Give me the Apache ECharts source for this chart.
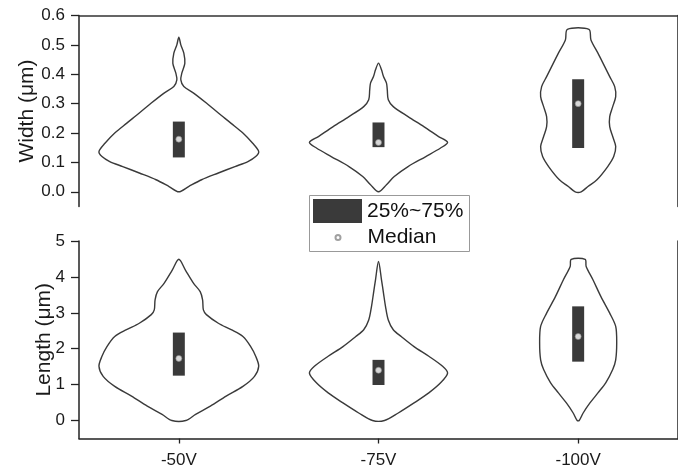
<!DOCTYPE html>
<html>
<head>
<meta charset="utf-8">
<script src="https://cdn.jsdelivr.net/npm/echarts@6/dist/echarts.min.js"></script>
<style>html,body{margin:0;padding:0;background:#fff;}#chart{width:678px;height:474px;}</style>
</head>
<body>
<div id="chart"></div>
<script>
const categories = ['-50V', '-75V', '-100V'];

const widthMajorTicks = [0, 0.1, 0.2, 0.3, 0.4, 0.5, 0.6];
const widthMinorTicks = [-0.05, 0.05, 0.15, 0.25, 0.35, 0.45, 0.55];
const lengthMajorTicks = [0, 1, 2, 3, 4, 5];
const lengthMinorTicks = [0.5, 1.5, 2.5, 3.5, 4.5];

// violin profiles: [value, half-width as fraction of category band]
const widthProfile50 = [[0,0],[0.018,0.049],[0.041,0.114],[0.064,0.198],[0.086,0.281],[0.103,0.346],[0.12,0.385],[0.137,0.400],[0.165,0.370],[0.2,0.321],[0.233,0.262],[0.268,0.198],[0.302,0.138],[0.336,0.074],[0.358,0.025],[0.381,0.010],[0.404,0.015],[0.437,0.030],[0.472,0.025],[0.5,0.010],[0.526,0]];
const widthProfile75 = [[0,0],[0.024,0.040],[0.052,0.079],[0.086,0.148],[0.12,0.237],[0.149,0.311],[0.168,0.346],[0.188,0.301],[0.222,0.227],[0.256,0.148],[0.29,0.074],[0.313,0.049],[0.347,0.044],[0.37,0.040],[0.392,0.025],[0.415,0.015],[0.438,0]];
const widthProfile100 = [[0,0.015],[0.018,0.049],[0.041,0.094],[0.086,0.148],[0.12,0.178],[0.154,0.188],[0.188,0.173],[0.222,0.158],[0.256,0.158],[0.29,0.173],[0.324,0.188],[0.358,0.183],[0.392,0.158],[0.426,0.133],[0.472,0.099],[0.517,0.064],[0.553,0.054]];

const lengthProfile50 = [[0,0.035],[0.17,0.084],[0.4,0.158],[0.68,0.237],[0.95,0.321],[1.23,0.379],[1.51,0.400],[1.79,0.385],[2.06,0.360],[2.34,0.321],[2.53,0.262],[2.71,0.198],[2.95,0.138],[3.08,0.123],[3.36,0.119],[3.59,0.107],[3.82,0.074],[4.19,0.033],[4.49,0]];
const lengthProfile75 = [[0,0.030],[0.21,0.099],[0.49,0.178],[0.77,0.252],[1.05,0.311],[1.32,0.346],[1.51,0.321],[1.79,0.252],[2.06,0.178],[2.34,0.114],[2.53,0.074],[2.8,0.049],[3.18,0.035],[3.55,0.025],[3.92,0.015],[4.43,0]];
const lengthProfile100 = [[0,0.005],[0.21,0.025],[0.49,0.059],[0.77,0.099],[1.05,0.138],[1.42,0.173],[1.69,0.188],[2.16,0.193],[2.62,0.188],[2.99,0.158],[3.45,0.114],[3.92,0.074],[4.29,0.040],[4.49,0.035]];

const widthQ1 = [0.117, 0.152, 0.149];
const widthQ3 = [0.239, 0.236, 0.383];
const widthMedian = [0.179, 0.168, 0.300];
const lengthQ1 = [1.25, 0.99, 1.64];
const lengthQ3 = [2.45, 1.69, 3.18];
const lengthMedian = [1.73, 1.40, 2.34];

const widthProfiles = [widthProfile50, widthProfile75, widthProfile100];
const lengthProfiles = [lengthProfile50, lengthProfile75, lengthProfile100];

const FONT = 'Liberation Sans, Arial, sans-serif';
const AX = '#222';

function violinRenderer(profiles) {
  return function (params, api) {
    const i = api.value(0);
    const prof = profiles[i];
    const cx = api.coord([i, 0])[0];
    const band = api.size([1, 0])[0];
    const pts = [];
    const push = (p) => {
      const last = pts[pts.length - 1];
      if (!last || Math.abs(last[0] - p[0]) > 0.01 || Math.abs(last[1] - p[1]) > 0.01) pts.push(p);
    };
    prof.forEach(p => push([cx + p[1] * band, api.coord([i, p[0]])[1]]));
    prof.slice().reverse().forEach(p => push([cx - p[1] * band, api.coord([i, p[0]])[1]]));
    if (pts.length > 1) {
      const a = pts[0], b = pts[pts.length - 1];
      if (Math.abs(a[0] - b[0]) < 0.01 && Math.abs(a[1] - b[1]) < 0.01) pts.pop();
    }
    return {
      type: 'polygon',
      shape: { points: pts, smooth: 0.3 },
      style: { fill: 'none', stroke: '#3a3a3a', lineWidth: 1.4 }
    };
  };
}

function boxRenderer(params, api) {
  const i = api.value(0);
  const lo = api.coord([i, api.value(1)]);
  const hi = api.coord([i, api.value(2)]);
  const band = api.size([1, 0])[0];
  const hw = 0.03 * band;
  return {
    type: 'rect',
    shape: { x: lo[0] - hw, y: hi[1], width: 2 * hw, height: lo[1] - hi[1] },
    style: { fill: '#3a3a3a' }
  };
}

function yAxisMajor(gridIndex, min, max, ticks, name, nameGap, digits) {
  return {
    type: 'value', gridIndex, min, max,
    name, nameLocation: 'middle', nameGap, nameMoveOverlap: false,
    nameTextStyle: { fontFamily: FONT, fontSize: 21, color: '#1a1a1a' },
    axisLine: { show: true, onZero: false, lineStyle: { color: AX, width: 1.5 } },
    axisTick: { show: true, length: 8, customValues: ticks, lineStyle: { color: AX, width: 1.3 } },
    axisLabel: { show: true, customValues: ticks, margin: 14, fontFamily: FONT, fontSize: 17, color: '#1a1a1a',
      formatter: v => Number(v).toFixed(digits) },
    splitLine: { show: false }
  };
}
function yAxisMinor(gridIndex, min, max, ticks) {
  return {
    type: 'value', gridIndex, min, max,
    axisLine: { show: true, onZero: false, lineStyle: { color: AX, width: 1.5 } },
    axisTick: { show: true, length: 4, customValues: ticks, lineStyle: { color: AX, width: 1.3 } },
    axisLabel: { show: false, customValues: ticks },
    splitLine: { show: false }
  };
}

const option = {
  backgroundColor: '#fff',
  animation: false,
  grid: [
    { left: 79, top: 15.5, width: 607.5, height: 191 },
    { left: 79, top: 241, width: 607.5, height: 197.5 }
  ],
  xAxis: [
    { type: 'category', gridIndex: 0, data: categories, position: 'top',
      axisLine: { show: true, onZero: false, lineStyle: { color: '#333', width: 1.5 } },
      axisTick: { show: false }, axisLabel: { show: false }, splitLine: { show: false } },
    { type: 'category', gridIndex: 1, data: categories, position: 'bottom',
      axisLine: { show: true, onZero: false, lineStyle: { color: AX, width: 1.5 } },
      axisTick: { show: true, alignWithLabel: true, length: 5, lineStyle: { color: AX, width: 1.3 } },
      axisLabel: { margin: 13, fontFamily: FONT, fontSize: 17, color: '#1a1a1a' },
      splitLine: { show: false } }
  ],
  yAxis: [
    yAxisMajor(0, -0.05, 0.6, widthMajorTicks, 'Width (μm)', 41, 1),
    yAxisMinor(0, -0.05, 0.6, widthMinorTicks),
    yAxisMajor(1, -0.5, 5, lengthMajorTicks, 'Length (μm)', 24, 0),
    yAxisMinor(1, -0.5, 5, lengthMinorTicks)
  ],
  legend: [
    { data: [{ name: '25%~75%', icon: 'rect' }], left: 313, top: 199, padding: 0,
      itemWidth: 49, itemHeight: 24, selectedMode: false,
      textStyle: { fontFamily: FONT, fontSize: 21, color: '#111' } },
    { data: [{ name: 'Median', icon: 'circle' }], left: 334.5, top: 227, padding: 0,
      itemWidth: 49, itemHeight: 5, symbolKeepAspect: true, selectedMode: false,
      textStyle: { fontFamily: FONT, fontSize: 21, color: '#111' } }
  ],
  graphic: [
    { type: 'rect', z: -1, shape: { x: 309.5, y: 195.5, width: 160, height: 56 },
      style: { fill: '#fff', stroke: '#999', lineWidth: 1 } }
  ],
  series: [
    { type: 'custom', name: 'violinW', xAxisIndex: 0, yAxisIndex: 0, z: 2,
      renderItem: violinRenderer(widthProfiles), data: categories.map((c, i) => [i, 0]) },
    { type: 'custom', name: '25%~75%', xAxisIndex: 0, yAxisIndex: 0, z: 3,
      itemStyle: { color: '#3a3a3a' },
      renderItem: boxRenderer, data: categories.map((c, i) => [i, widthQ1[i], widthQ3[i]]) },
    { type: 'scatter', name: 'Median', xAxisIndex: 0, yAxisIndex: 0, z: 4,
      symbolSize: 6, itemStyle: { color: '#fff', borderColor: '#888', borderWidth: 0.8 },
      data: categories.map((c, i) => [i, widthMedian[i]]) },
    { type: 'custom', name: 'violinL', xAxisIndex: 1, yAxisIndex: 2, z: 2,
      renderItem: violinRenderer(lengthProfiles), data: categories.map((c, i) => [i, 0]) },
    { type: 'custom', name: '25%~75%', xAxisIndex: 1, yAxisIndex: 2, z: 3,
      itemStyle: { color: '#3a3a3a' },
      renderItem: boxRenderer, data: categories.map((c, i) => [i, lengthQ1[i], lengthQ3[i]]) },
    { type: 'scatter', name: 'Median', xAxisIndex: 1, yAxisIndex: 2, z: 4,
      symbolSize: 6, itemStyle: { color: '#fff', borderColor: '#888', borderWidth: 0.8 },
      data: categories.map((c, i) => [i, lengthMedian[i]]) }
  ]
};

const chart = echarts.init(document.getElementById('chart'), null, { renderer: 'canvas' });
chart.setOption(option);
</script>
</body>
</html>
